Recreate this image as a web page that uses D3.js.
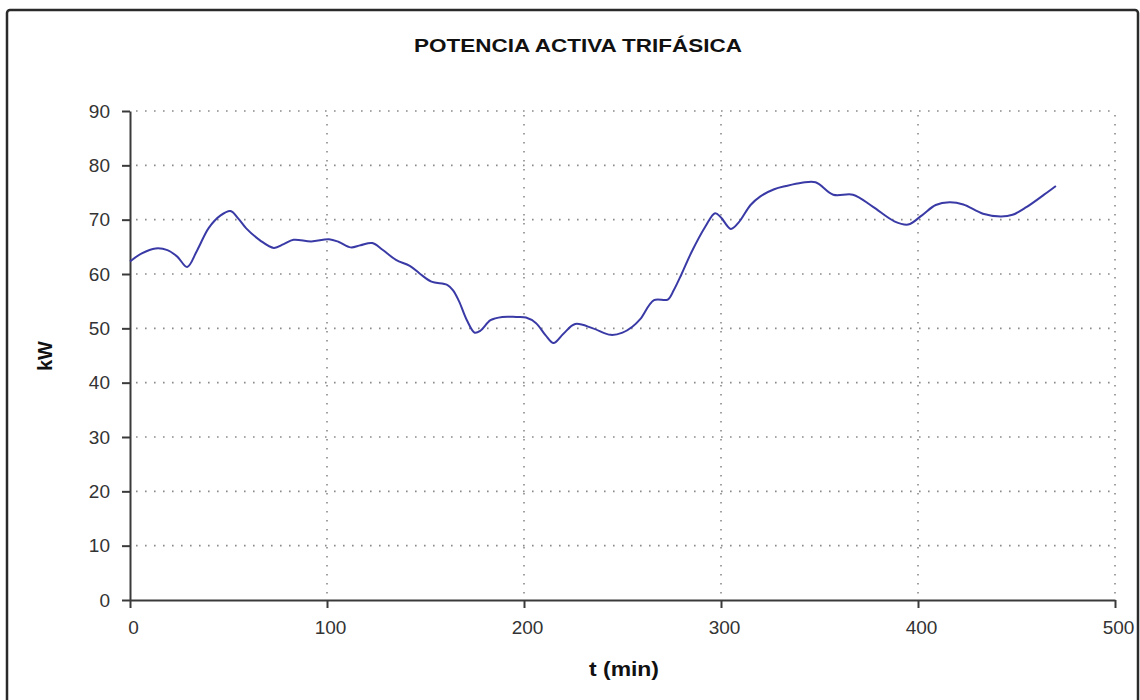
<!DOCTYPE html>
<html lang="es">
<head>
    <meta charset="UTF-8">
    <title>Potencia activa trifásica</title>
    <script src="https://d3js.org/d3.v7.min.js"></script>
    <style>
        body { margin: 0; background: #fff; }
        svg { font-family: "Liberation Sans", Arial, sans-serif; }
        .tick-label { font-size: 19px; fill: #333; }
        .axis-title { font-size: 20px; font-weight: bold; fill: #111; }
        .chart-title { font-size: 19px; font-weight: bold; fill: #111; }
        .grid line { stroke: #8a8a8a; stroke-width: 1.6; stroke-dasharray: 1.6, 7.4; }
    </style>
</head>
<body>
<svg id="chart" width="1140" height="700"></svg>
<script>
    // measured data (minutes, kW)
    var tMin = [0, 6, 13, 19, 24, 29, 34, 40, 46, 51, 55, 59, 66, 73, 78, 83, 92, 101, 106, 112,
        117, 123, 128, 135, 142, 147, 153, 161, 164, 167, 171, 175, 178, 183, 189, 196, 201, 206,
        211, 215, 220, 226, 235, 244, 250, 255, 259, 266, 273, 276, 280, 285, 292, 297, 300, 305,
        309, 315, 320, 327, 333, 341, 348, 357, 367, 377, 388, 395, 402, 409, 416, 423, 433, 442,
        448, 455, 464, 470];
    var kW = [62.3, 63.8, 64.7, 64.4, 63.2, 61.3, 64.3, 68.5, 70.8, 71.6, 70.2, 68.4, 66.2, 64.8,
        65.5, 66.3, 66.0, 66.4, 65.9, 64.9, 65.3, 65.7, 64.5, 62.6, 61.5, 60.1, 58.6, 58.0, 57.0,
        55.0, 51.5, 49.2, 49.6, 51.5, 52.1, 52.1, 52.0, 51.0, 48.7, 47.3, 49.0, 50.8, 50.0, 48.8,
        49.2, 50.3, 51.7, 55.2, 55.3, 57.0, 60.0, 64.0, 68.7, 71.2, 70.4, 68.3, 69.5, 72.7, 74.3,
        75.6, 76.2, 76.8, 76.9, 74.6, 74.6, 72.4, 69.7, 69.1, 70.8, 72.7, 73.2, 72.8, 71.1, 70.6,
        70.9, 72.3, 74.6, 76.2];
    var xTicks = [0, 100, 200, 300, 400, 500];
    var yTicks = [0, 10, 20, 30, 40, 50, 60, 70, 80, 90];

    var data = tMin.map(function(t, i) { return { t: t, v: kW[i] }; });

    var svg = d3.select("#chart");

    // outer frame
    svg.append("rect")
        .attr("x", 7).attr("y", 10)
        .attr("width", 1131).attr("height", 720)
        .attr("rx", 3)
        .attr("fill", "#fff")
        .attr("stroke", "#2a2a2a")
        .attr("stroke-width", 2.5);

    var plotLeft = 130, plotRight = 1115, plotTop = 111, plotBottom = 600;

    var x = d3.scaleLinear().domain([0, 500]).range([plotLeft, plotRight]);
    var y = d3.scaleLinear().domain([0, 90]).range([plotBottom, plotTop]);

    // grid
    var grid = svg.append("g").attr("class", "grid");
    grid.selectAll(".h")
        .data(yTicks.filter(d => d > 0))
        .enter().append("line")
        .attr("x1", plotLeft + 6).attr("x2", plotRight)
        .attr("y1", d => y(d)).attr("y2", d => y(d));
    grid.selectAll(".v")
        .data(xTicks.filter(d => d > 0))
        .enter().append("line")
        .attr("x1", d => x(d)).attr("x2", d => x(d))
        .attr("y1", plotTop + 4).attr("y2", plotBottom - 3);

    // axes
    var yAxis = svg.append("g")
        .attr("transform", "translate(" + plotLeft + ",0)")
        .call(d3.axisLeft(y).tickValues(yTicks).tickSize(8).tickPadding(12).tickSizeOuter(0));
    var xAxis = svg.append("g")
        .attr("transform", "translate(0," + plotBottom + ")")
        .call(d3.axisBottom(x).tickValues(xTicks).tickSize(8).tickPadding(13).tickSizeOuter(0));

    [xAxis, yAxis].forEach(function(a) {
        a.select(".domain").attr("stroke", "#3a3a3a").attr("stroke-width", 2);
        a.selectAll(".tick line").attr("stroke", "#3a3a3a").attr("stroke-width", 2);
        a.selectAll(".tick text").attr("class", "tick-label").attr("font-family", null).attr("font-size", null);
    });
    xAxis.selectAll(".tick text").attr("dx", "3px");

    // series
    var line = d3.line()
        .x(d => x(d.t))
        .y(d => y(d.v))
        .curve(d3.curveCatmullRom.alpha(0.5));

    svg.append("path")
        .datum(data)
        .attr("fill", "none")
        .attr("stroke", "#3a3aa6")
        .attr("stroke-width", 2)
        .attr("d", line);

    // titles
    svg.append("text")
        .attr("class", "chart-title")
        .attr("x", 578).attr("y", 52)
        .attr("text-anchor", "middle")
        .attr("textLength", 328)
        .attr("lengthAdjust", "spacingAndGlyphs")
        .text("POTENCIA ACTIVA TRIFÁSICA");

    svg.append("text")
        .attr("class", "axis-title")
        .attr("x", 624).attr("y", 676)
        .attr("text-anchor", "middle")
        .attr("textLength", 70)
        .attr("lengthAdjust", "spacingAndGlyphs")
        .text("t (min)");

    svg.append("text")
        .attr("class", "axis-title")
        .attr("transform", "translate(52,356) rotate(-90)")
        .attr("text-anchor", "middle")
        .text("kW");
</script>
</body>
</html>
